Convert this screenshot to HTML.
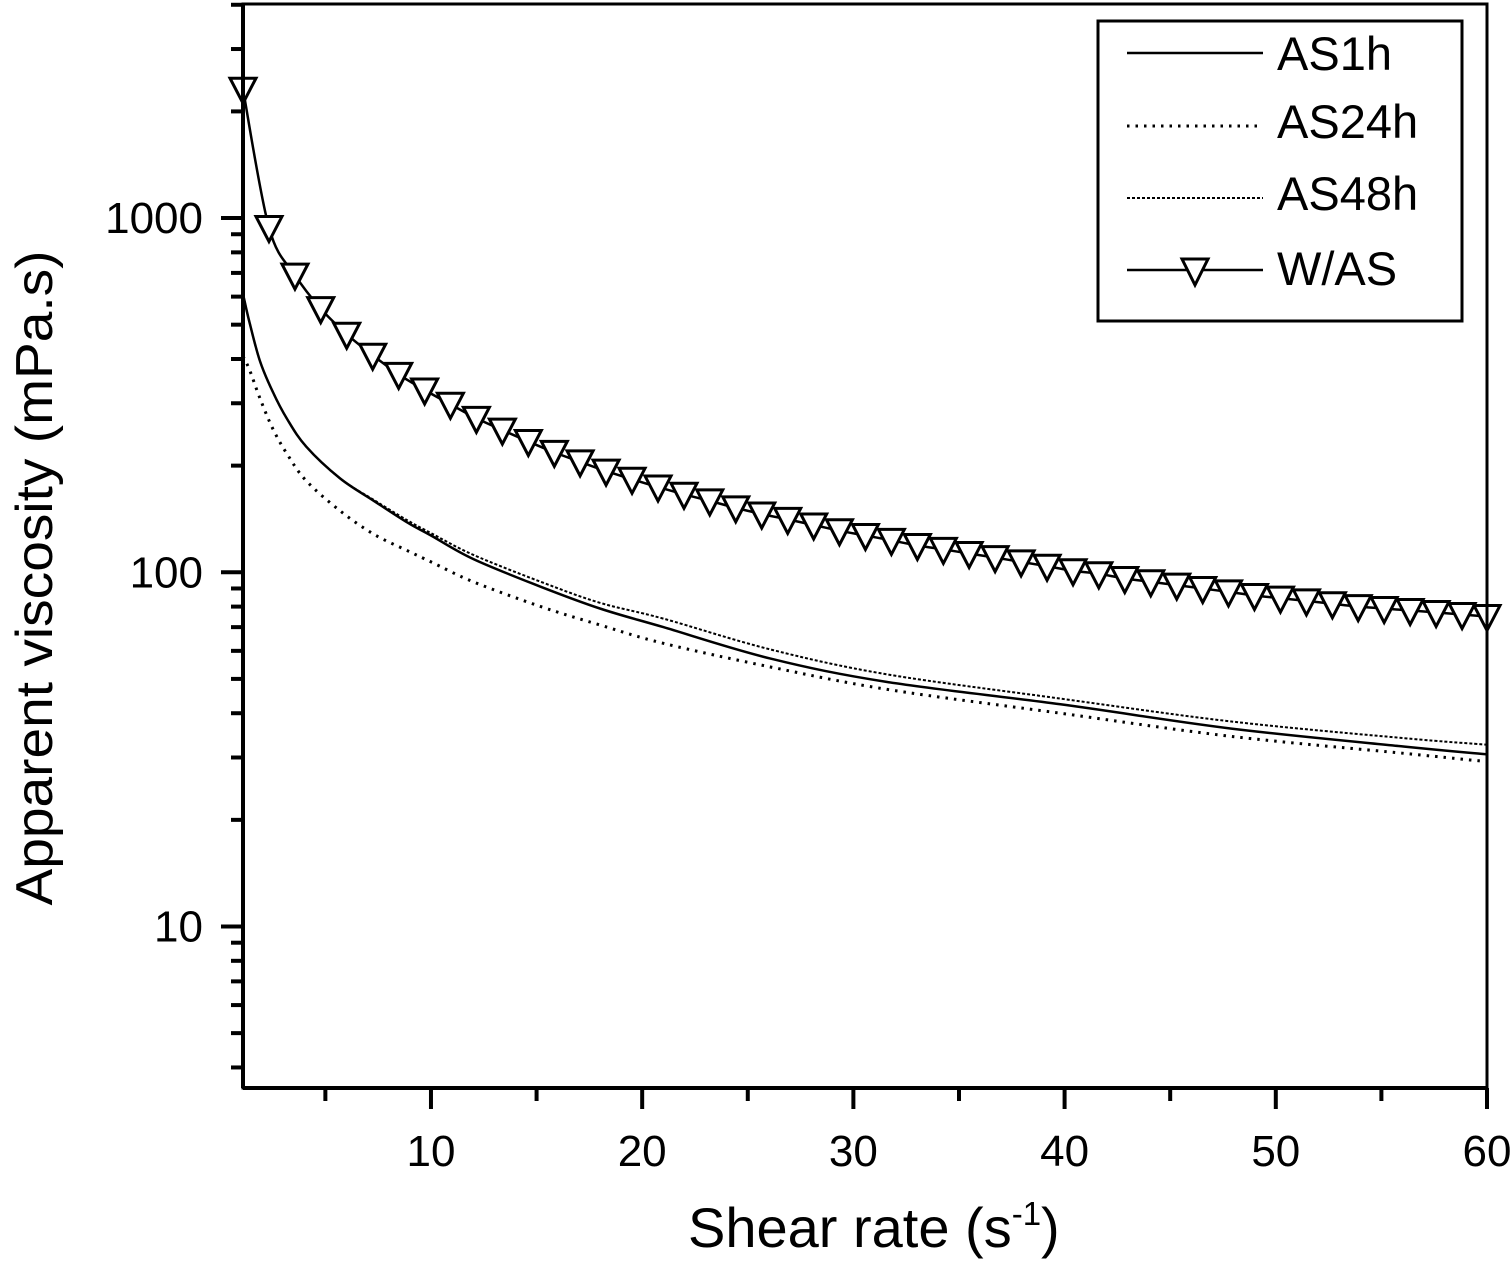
<!DOCTYPE html>
<html><head><meta charset="utf-8"><style>
html,body{margin:0;padding:0;background:#fff;}
svg{display:block;font-family:"Liberation Sans",Arial,sans-serif;}
</style></head><body>
<svg id="chart" width="1512" height="1265" viewBox="0 0 1512 1265" xmlns="http://www.w3.org/2000/svg">
<rect x="0" y="0" width="1512" height="1265" fill="#fff"/>
<g id="marks"></g>
<g id="axes"></g>
<text x="0" y="0" transform="translate(52,578) rotate(-90)" text-anchor="middle" font-size="52" textLength="655" lengthAdjust="spacingAndGlyphs">Apparent viscosity (mPa.s)</text>
<text x="688" y="1247" font-size="56">Shear rate (s<tspan font-size="33" dy="-22">-1</tspan><tspan dy="22">)</tspan></text>
<g>
<rect x="1098" y="21" width="364" height="300" fill="#fff" stroke="#000" stroke-width="3"/>
<line x1="1127" y1="53" x2="1263" y2="53" stroke="#000" stroke-width="2.5"/>
<text x="1277" y="70" font-size="47">AS1h</text>
<line x1="1127" y1="126" x2="1263" y2="126" stroke="#000" stroke-width="3" stroke-dasharray="2.5,6"/>
<text x="1277" y="138" font-size="47">AS24h</text>
<line x1="1127" y1="198" x2="1263" y2="198" stroke="#000" stroke-width="2" stroke-dasharray="3,2"/>
<text x="1277" y="210" font-size="47">AS48h</text>
<line x1="1127" y1="270" x2="1263" y2="270" stroke="#000" stroke-width="2.5"/>
<polygon points="1182,259 1208,259 1195,285" fill="#fff" stroke="#000" stroke-width="3"/>
<text x="1277" y="285" font-size="47">W/AS</text>
</g>
</svg>
<script>
const xTicks=[10,20,30,40,50,60];
const xMinor=[5,15,25,35,45,55];
const yTicks=[10,100,1000];
const yTickLabels=["10","100","1000"];
const asX=[1.1,1.4,1.9,2.5,3.2,4.1,5.7,7.3,8.9,10,12,15.2,18,21,26.1,31.6,39.8,47.9,56.1,60];
const as1h=[610,510,395,324,270,226,184,159,138,127,109,91,79,70,57,49,42.4,36.2,32.2,30.6];
const as24h=[407,374,310,255,215,181,149,128,115,107,94,80,71,63,54,46.7,40,34.4,30.8,29.2];
const as48h=[610,510,395,324,270,226,184,160,140,129,112,94,82,74,60.5,51.5,44,37.9,34,32.6];
const wasX=[1.1,2.33,3.56,4.78,6.01,7.24,8.47,9.7,10.92,12.15,13.38,14.61,15.84,17.06,18.29,19.52,20.75,21.98,23.2,24.43,25.66,26.89,28.12,29.34,30.57,31.8,33.03,34.26,35.48,36.71,37.94,39.17,40.4,41.62,42.85,44.08,45.31,46.54,47.76,48.99,50.22,51.45,52.68,53.9,55.13,56.36,57.59,58.82,60];
const wasY=[2310,940,690,555,470,410,362,327,298,272,252,234,218,205,193,183,174,166,159,152,146,141,136,131,127,123,119,116,113,110,107,104,101,99,96,94,92,90,88,86,84.5,83,81.5,80,79,78,77,76,75];

const svgNS="http://www.w3.org/2000/svg";
const L=243,R=1487,T=4,B=1088;
const xMin=1.1,xMax=60,yMin=3.5,yMax=4020;
const X=v=>L+(v-xMin)/(xMax-xMin)*(R-L);
const Y=v=>B-(Math.log10(v)-Math.log10(yMin))/(Math.log10(yMax)-Math.log10(yMin))*(B-T);
function mk(tag,attrs,parent){const e=document.createElementNS(svgNS,tag);for(const k in attrs)e.setAttribute(k,attrs[k]);parent.appendChild(e);return e;}
const marks=document.getElementById('marks'),axes=document.getElementById('axes');
function smoothPath(pts){
  let d='M'+pts[0][0].toFixed(1)+','+pts[0][1].toFixed(1);
  for(let i=0;i<pts.length-1;i++){
    const p0=pts[Math.max(0,i-1)],p1=pts[i],p2=pts[i+1],p3=pts[Math.min(pts.length-1,i+2)];
    const c1=[p1[0]+(p2[0]-p0[0])/6,p1[1]+(p2[1]-p0[1])/6];
    const c2=[p2[0]-(p3[0]-p1[0])/6,p2[1]-(p3[1]-p1[1])/6];
    d+=` C${c1[0].toFixed(1)},${c1[1].toFixed(1)} ${c2[0].toFixed(1)},${c2[1].toFixed(1)} ${p2[0].toFixed(1)},${p2[1].toFixed(1)}`;
  }
  return d;
}
function line(xs,ys,dash,w,name){
  const p=mk('path',{d:smoothPath(xs.map((x,i)=>[X(x),Y(ys[i])])),fill:'none',stroke:'#000','stroke-width':w,'stroke-linejoin':'round'},marks);
  if(dash)p.setAttribute('stroke-dasharray',dash);
  
  
}
line(asX,as24h,'2.5,6',3,'series-as24h');
line(asX,as48h,'3,2',2,'series-as48h');
line(asX,as1h,null,2.5,'series-as1h');
line(wasX,wasY,null,2.5,'series-was-line');
wasX.forEach((x,i)=>{
  const cx=X(x),cy=Y(wasY[i]);
  const t=mk('polygon',{points:`${cx-13},${cy-11} ${cx+13},${cy-11} ${cx},${cy+14}`,fill:'#fff',stroke:'#000','stroke-width':3},marks);
  
  
});
const fr=mk('rect',{x:L,y:T,width:R-L,height:B-T,fill:'none',stroke:'#000','stroke-width':3},axes);


const ax=mk('line',{x1:L,y1:B,x2:R,y2:B,stroke:'#000','stroke-width':4},axes);


const ay=mk('line',{x1:L,y1:T,x2:L,y2:B,stroke:'#000','stroke-width':4},axes);


xTicks.forEach(v=>{
  const t=mk('line',{x1:X(v),y1:B,x2:X(v),y2:B+21,stroke:'#000','stroke-width':4},axes);
  
  
  const l=mk('text',{x:X(v),y:1166,'text-anchor':'middle','font-size':44},axes);
  l.textContent=String(v);
  
  
});
xMinor.forEach(v=>{
  const t=mk('line',{x1:X(v),y1:B,x2:X(v),y2:B+13,stroke:'#000','stroke-width':4},axes);
  
  
});
yTicks.forEach((v,i)=>{
  const t=mk('line',{x1:L-22,y1:Y(v),x2:L,y2:Y(v),stroke:'#000','stroke-width':4},axes);
  
  
  const l=mk('text',{x:203,y:Y(v)+15,'text-anchor':'end','font-size':44},axes);
  l.textContent=yTickLabels[i];
  
  
});
[1,10,100,1000].forEach(d=>{for(let m=2;m<=9;m++){const v=d*m;if(v<yMin||v>yMax)continue;
  const t=mk('line',{x1:L-12,y1:Y(v),x2:L,y2:Y(v),stroke:'#000','stroke-width':4},axes);
  
  
}});
</script>
</body></html>
